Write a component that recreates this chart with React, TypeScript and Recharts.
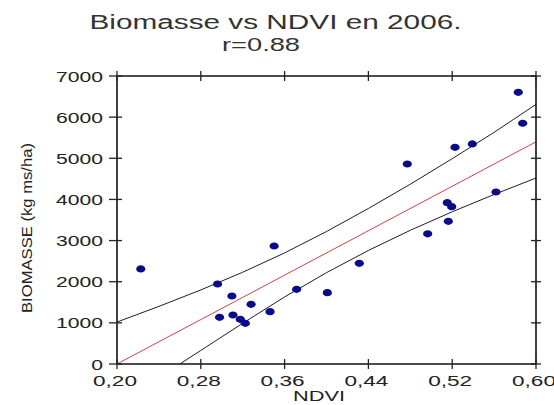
import React from 'react';
import {
  ComposedChart,
  Scatter,
  Line,
  XAxis,
  YAxis
} from 'recharts';

// measured points (NDVI, biomasse kg ms/ha)
const ndvi = [
  0.2227, 0.2960, 0.2979, 0.3097, 0.3107, 0.3177, 0.3225, 0.3280, 0.3461, 0.3500,
  0.3715, 0.4008, 0.4313, 0.4771, 0.4966, 0.5153, 0.5163, 0.5195, 0.5227, 0.5392,
  0.5618, 0.5831, 0.5873
];
const biomasse = [
  2310, 1945, 1135, 1653, 1191, 1086, 989, 1451, 1272, 2868,
  1815, 1734, 2447, 4861, 3165, 3921, 3469, 3824, 5267, 5348,
  4181, 6604, 5851
];

// regression line and confidence band
const fitX = [0.2, 0.6];
const fitY = [0, 5400];
const upperX = [0.2, 0.24, 0.28, 0.32, 0.36, 0.4, 0.44, 0.48, 0.52, 0.56, 0.6];
const upperY = [1020, 1400, 1800, 2230, 2700, 3220, 3780, 4370, 4990, 5630, 6310];
const lowerX = [0.26, 0.28, 0.32, 0.36, 0.4, 0.44, 0.48, 0.52, 0.56, 0.6];
const lowerY = [0, 330, 990, 1630, 2220, 2760, 3250, 3700, 4120, 4520];

const xTicks = [0.2, 0.28, 0.36, 0.44, 0.52, 0.6];
const yTicks = [0, 1000, 2000, 3000, 4000, 5000, 6000, 7000];

const toPts = (xs: number[], ys: number[]) => xs.map((x, i) => ({ x, y: ys[i] }));
const points = toPts(ndvi, biomasse);
const fit = toPts(fitX, fitY);
const upper = toPts(upperX, upperY);
const lower = toPts(lowerX, lowerY);

const FONT = '"Liberation Sans", Arial, sans-serif';
const INK = '#222';
const TS = 5; // tick size used to find the axis position in custom ticks

const fmtX = (v: number) => v.toFixed(2).replace('.', ',');

const Dot = (props: any) => {
  const { cx, cy } = props;
  if (cx == null || cy == null) return null;
  return <ellipse cx={cx} cy={cy} rx={4.6} ry={3.6} fill="#0a0a8a" />;
};

const BottomTick = ({ x, y, payload }: any) => {
  const ay = y - TS;
  const label = fmtX(payload.value);
  return (
    <g>
      <line x1={x} x2={x} y1={ay - 5} y2={ay + 5} stroke={INK} strokeWidth={1.3} />
      <text x={x - 2} y={ay + 22} textAnchor="middle" fontFamily={FONT} fontSize={14}
        fill={INK} textLength={44} lengthAdjust="spacingAndGlyphs">{label}</text>
    </g>
  );
};

const TopTick = ({ x, y }: any) => {
  const ay = y + TS;
  return <line x1={x} x2={x} y1={ay - 5} y2={ay + 5} stroke={INK} strokeWidth={1.3} />;
};

const LeftTick = ({ x, y, payload }: any) => {
  const ax = x + TS;
  const label = String(payload.value);
  return (
    <g>
      <line x1={ax - 8} x2={ax + 5} y1={y} y2={y} stroke={INK} strokeWidth={1.3} />
      <text x={ax - 14} y={y + 5.5} textAnchor="end" fontFamily={FONT} fontSize={14}
        fill={INK} textLength={label.length * 11.75} lengthAdjust="spacingAndGlyphs">{label}</text>
    </g>
  );
};

const RightTick = ({ x, y }: any) => {
  const ax = x - TS;
  return <line x1={ax - 5} x2={ax + 5} y1={y} y2={y} stroke={INK} strokeWidth={1.3} />;
};

const axisLine = { stroke: '#111', strokeWidth: 1.6 };

export default function App() {
  return (
    <div style={{ position: 'absolute', left: 0, top: 0, width: 554, height: 405, background: '#fff' }}>
      <ComposedChart width={554} height={405} margin={{ top: 0, right: 0, bottom: 0, left: 0 }}>
        <XAxis dataKey="x" type="number" domain={[0.2, 0.6]} ticks={xTicks} interval={0}
          allowDataOverflow height={41} tickSize={TS} tickMargin={0} tickLine={false}
          axisLine={axisLine} tick={<BottomTick />} />
        <XAxis xAxisId="top" orientation="top" dataKey="x" type="number" domain={[0.2, 0.6]}
          ticks={xTicks} interval={0} allowDataOverflow height={76} tickSize={TS} tickMargin={0}
          tickLine={false} axisLine={axisLine} tick={<TopTick />} />
        <YAxis dataKey="y" type="number" domain={[0, 7000]} ticks={yTicks} interval={0}
          allowDataOverflow width={117} tickSize={TS} tickMargin={0} tickLine={false}
          axisLine={axisLine} tick={<LeftTick />} />
        <YAxis yAxisId="right" orientation="right" dataKey="y" type="number" domain={[0, 7000]}
          ticks={yTicks} interval={0} allowDataOverflow width={18} tickSize={TS} tickMargin={0}
          tickLine={false} axisLine={axisLine} tick={<RightTick />} />
        <Line data={upper} dataKey="y" type="linear" stroke="#1c1c3c" strokeWidth={1}
          dot={false} activeDot={false} isAnimationActive={false} />
        <Line data={lower} dataKey="y" type="linear" stroke="#1c1c3c" strokeWidth={1}
          dot={false} activeDot={false} isAnimationActive={false} />
        <Line data={fit} dataKey="y" type="linear" stroke="#cc4444" strokeWidth={1}
          dot={false} activeDot={false} isAnimationActive={false} />
        <Scatter data={points} dataKey="y" shape={<Dot />} isAnimationActive={false} />
      </ComposedChart>
      <svg width={554} height={405} style={{ position: 'absolute', left: 0, top: 0, pointerEvents: 'none' }}>
        <text x={275.5} y={29} textAnchor="middle" fontFamily={FONT} fontSize={20} fill="#333"
          textLength={372} lengthAdjust="spacingAndGlyphs">Biomasse vs NDVI en 2006.</text>
        <text x={261} y={51} textAnchor="middle" fontFamily={FONT} fontSize={19} fill="#333"
          textLength={78} lengthAdjust="spacingAndGlyphs">r=0.88</text>
        <text x={319} y={401} textAnchor="middle" fontFamily={FONT} fontSize={14} fill={INK}
          textLength={52} lengthAdjust="spacingAndGlyphs">NDVI</text>
        <text transform="translate(32,228) rotate(-90)" textAnchor="middle" fontFamily={FONT}
          fontSize={15} fill={INK} textLength={170} lengthAdjust="spacingAndGlyphs">BIOMASSE (kg ms/ha)</text>
      </svg>
    </div>
  );
}
